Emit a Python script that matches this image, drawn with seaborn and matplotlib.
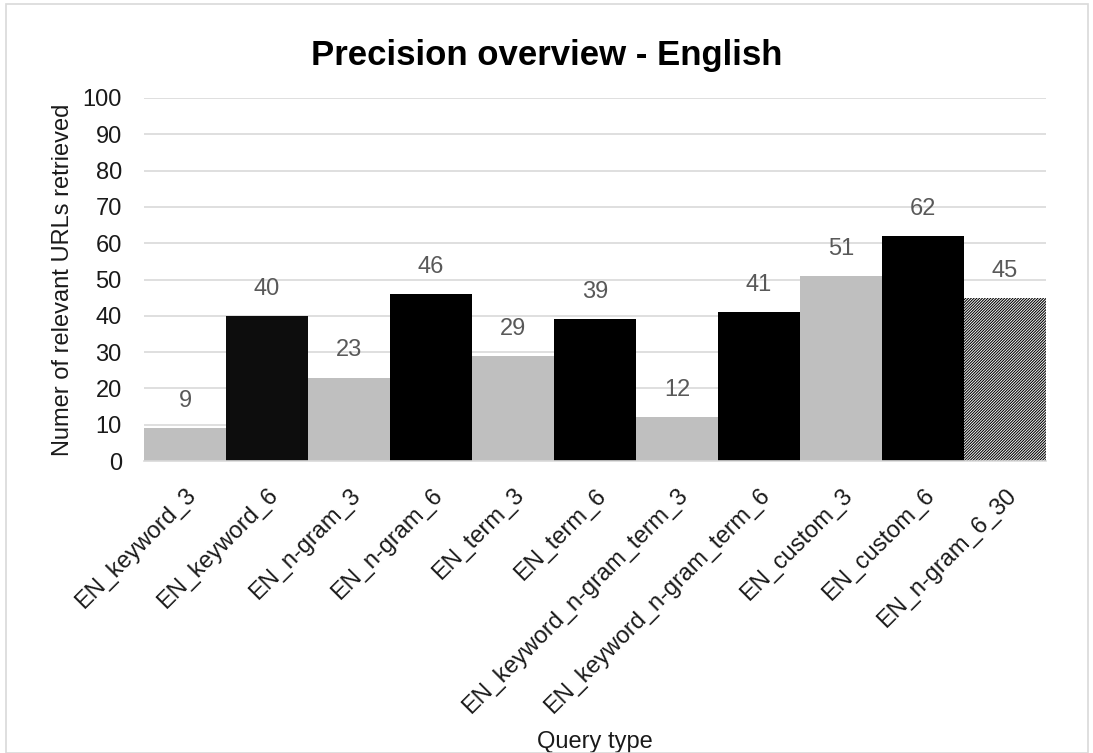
import matplotlib
matplotlib.use("Agg")
import matplotlib.pyplot as plt
import seaborn as sns
from matplotlib.patches import Rectangle

# Query types and the number of relevant URLs retrieved for each
categories = ["EN_keyword_3", "EN_keyword_6", "EN_n-gram_3", "EN_n-gram_6",
              "EN_term_3", "EN_term_6", "EN_keyword_n-gram_term_3",
              "EN_keyword_n-gram_term_6", "EN_custom_3", "EN_custom_6",
              "EN_n-gram_6_30"]
values = [9, 40, 23, 46, 29, 39, 12, 41, 51, 62, 45]
bar_colors = ["#bfbfbf", "#0d0d0d", "#bfbfbf", "#000000", "#bfbfbf", "#000000",
              "#bfbfbf", "#000000", "#bfbfbf", "#000000", "#ffffff"]
y_ticks = list(range(0, 101, 10))

sns.set_theme(style="white")
plt.rcParams["font.family"] = ["Liberation Sans", "DejaVu Sans"]
plt.rcParams["hatch.linewidth"] = 0.75
plt.rcParams["hatch.color"] = "#000000"

fig = plt.figure(figsize=(10.93, 7.53), dpi=100)
ax = fig.add_axes([144 / 1093, 1 - 461 / 753, (1046 - 144) / 1093, (461 - 98) / 753])

sns.barplot(x=categories, y=values, hue=categories, palette=bar_colors,
            width=1.0, saturation=1, legend=False, ax=ax, zorder=2)

for patch in ax.patches:
    patch.set_linewidth(0)
# last bar is drawn with a dense diagonal pattern
last = ax.patches[len(categories) - 1]
last.set_hatch("/" * 12)
last.set_edgecolor("#000000")
last.set_linewidth(0)

for i, v in enumerate(values):
    ax.annotate(str(v), xy=(i, v), xytext=(0, 19.5), textcoords="offset points",
                ha="center", va="center", fontsize=17, color="#595959")

ax.set_ylim(0, 100)
ax.set_xlim(-0.5, len(categories) - 0.5)
ax.set_yticks(y_ticks)
ax.yaxis.grid(True, color="#d9d9d9", linewidth=1.2, zorder=0)
ax.set_axisbelow(True)
for side in ["top", "right", "left"]:
    ax.spines[side].set_visible(False)
ax.spines["bottom"].set_color("#d9d9d9")
ax.spines["bottom"].set_linewidth(1.2)
ax.tick_params(axis="y", length=0, pad=16, labelsize=17, labelcolor="#1a1a1a")
ax.tick_params(axis="x", length=0, pad=17, labelsize=17, labelcolor="#1a1a1a")
plt.setp(ax.get_xticklabels(), rotation=45, ha="right", rotation_mode="anchor")

ax.set_ylabel("Numer of relevant URLs retrieved", fontsize=17, color="#1a1a1a", labelpad=6)
ax.set_xlabel("Query type", fontsize=17, color="#1a1a1a", labelpad=9)
fig.text(0.5, 1 - 56 / 753, "Precision overview - English", ha="center", va="center",
         fontsize=25, fontweight="bold", color="#000000")

fig.patches.append(Rectangle((6 / 1093, 0), 1 - 11 / 1093, 1 - 4 / 753,
                             transform=fig.transFigure, fill=False,
                             edgecolor="#d9d9d9", linewidth=1.2))

fig.savefig("out.png", dpi=100)
